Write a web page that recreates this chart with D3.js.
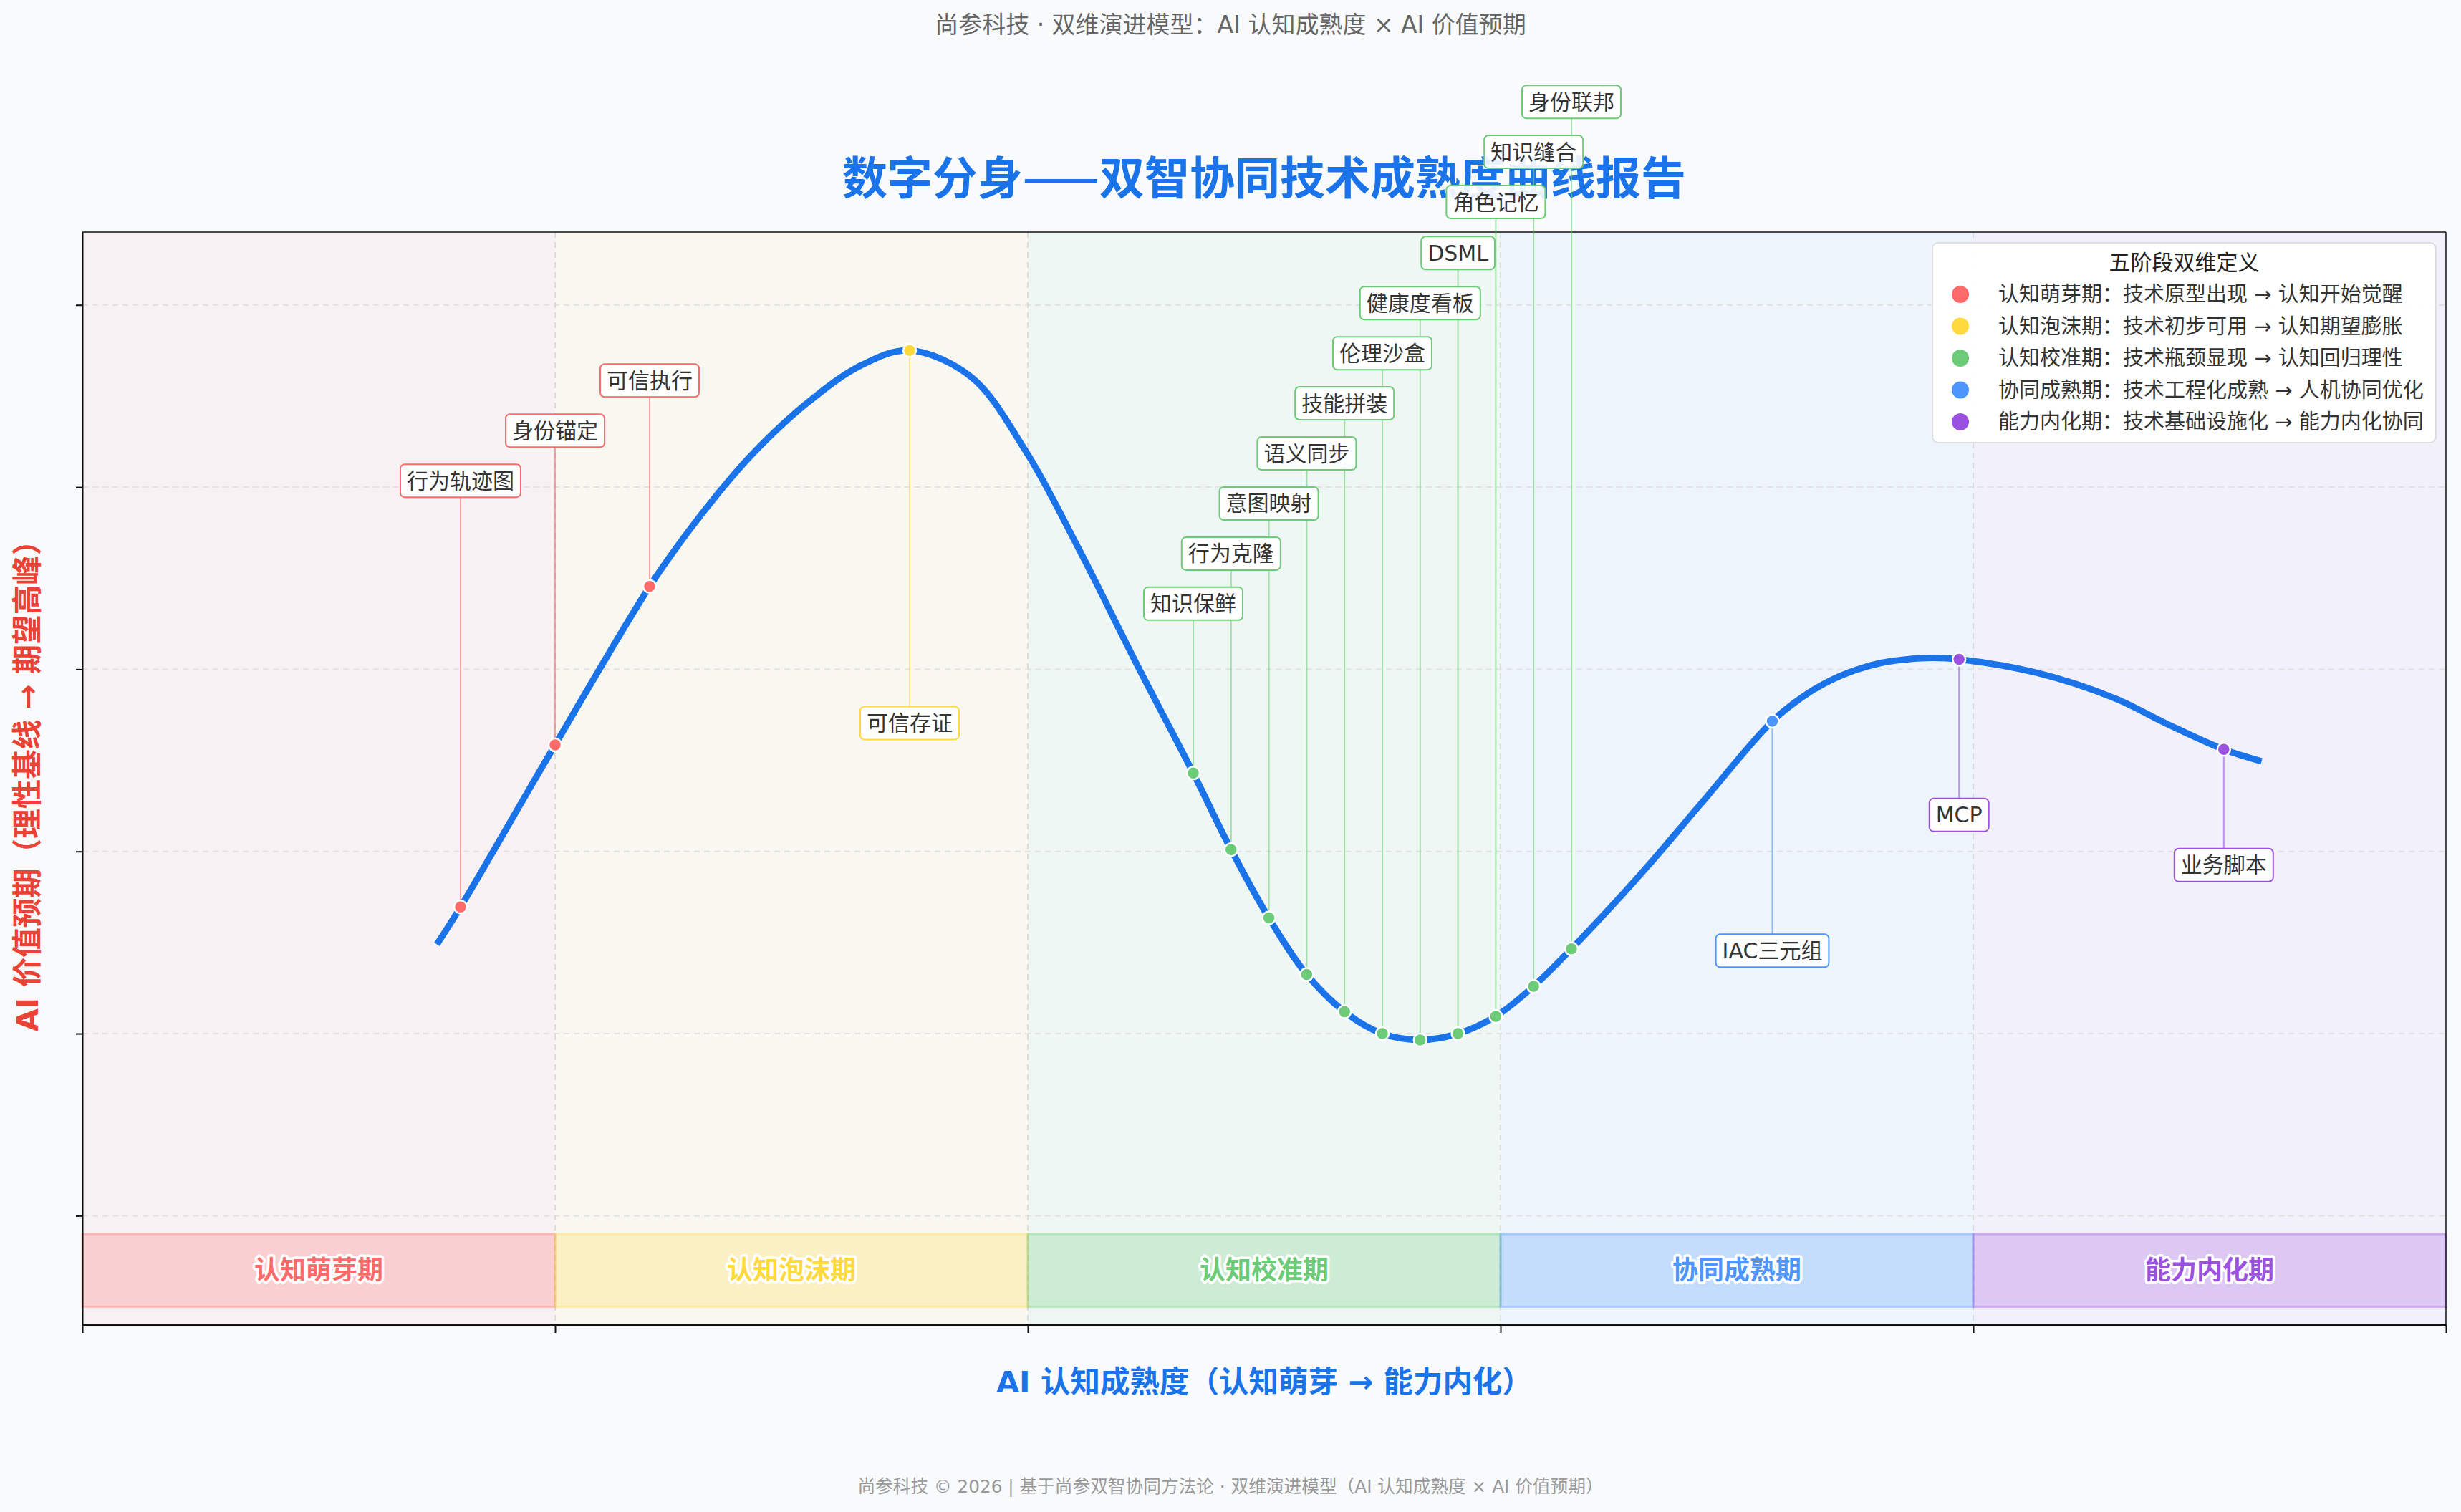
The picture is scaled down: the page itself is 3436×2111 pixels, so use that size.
<!DOCTYPE html>
<html><head><meta charset="utf-8">
<script src="https://cdn.jsdelivr.net/npm/d3@7"></script>
<style>
html,body{margin:0;padding:0;background:#f8fafc;}
svg{display:block}
text{font-family:"DejaVu Sans","Noto Sans CJK SC",sans-serif}
</style></head>
<body><svg id="chart" width="3436" height="2111"></svg>
<script>
// ---------------- DATA ----------------
const stages = ["认知萌芽期","认知泡沫期","认知校准期","协同成熟期","能力内化期"];
const stageDefs = ["技术原型出现 → 认知开始觉醒","技术初步可用 → 认知期望膨胀","技术瓶颈显现 → 认知回归理性","技术工程化成熟 → 人机协同优化","技术基础设施化 → 能力内化协同"];
const stageBounds = [0,20,40,60,80,100];
const yTicks = [0,20,40,60,80,100];

const curveX = [15,16,20,24,25.6,26.8,28.3,30.65,32.97,35,37.6,39.9,42.2,44.6,47,48.6,50.2,51.8,53.4,55,56.6,58.2,59.8,61.4,63,66.2,68.4,71.5,72.8,73.9,75,76.1,77.2,78.3,79.4,82.7,86,88.2,90.6,92.2];
const curveY = [29.8,33.9,51.7,69.1,75.0,79.0,83.5,89.2,93.4,95.0,92.1,84.0,73.0,60.6,48.6,40.2,32.7,26.5,22.4,20.0,19.3,20.0,21.9,25.2,29.3,38.3,45.0,54.3,57.0,58.7,59.9,60.7,61.1,61.25,61.1,59.6,56.8,54.0,51.2,49.9];

const techNames = ["行为轨迹图","身份锚定","可信执行","可信存证","知识保鲜","行为克隆","意图映射","语义同步","技能拼装","伦理沙盒","健康度看板","DSML","角色记忆","知识缝合","身份联邦","IAC三元组","MCP","业务脚本"];
const techStage = [0,0,0,1,2,2,2,2,2,2,2,2,2,2,2,3,4,4];
const techX = [16,20,24,35,47,48.6,50.2,51.8,53.4,55,56.6,58.2,59.8,61.4,63,71.5,79.4,90.6];
const techY = [33.9,51.7,69.1,95.0,48.6,40.2,32.7,26.5,22.4,20.0,19.3,20.0,21.9,25.2,29.3,54.3,61.1,51.2];

const titleText = "数字分身——双智协同技术成熟度曲线报告";
const subtitleText = "尚参科技 · 双维演进模型：AI 认知成熟度 × AI 价值预期";
const xTitle = "AI 认知成熟度（认知萌芽 → 能力内化）";
const yTitle = "AI 价值预期（理性基线 → 期望高峰）";
const legendTitle = "五阶段双维定义";
const footerText = "尚参科技 © 2026 | 基于尚参双智协同方法论 · 双维演进模型（AI 认知成熟度 × AI 价值预期）";

// ---------------- STYLE / LAYOUT ----------------
const stageColors = ["#ff6b6b","#ffd93d","#6bcb77","#4d96ff","#9b51e0"];
// label anchor (in value units) for each tech label
const labelYs = [80.7,86.2,91.7,54.1,67.2,72.7,78.2,83.7,89.2,94.7,100.2,105.7,111.3,116.8,122.3,29.1,44.0,38.5];

const W = 3436, H = 2111;
const L = 115, R = 3415, T = 324, B = 1850;
const svg = d3.select("#chart");
svg.append("rect").attr("width",W).attr("height",H).attr("fill","#f8fafc");

const x = d3.scaleLinear().domain([0,100]).range([L,R]);
const y = d3.scaleLinear().domain([-12,108]).range([B,T]);

// stage backgrounds
const bg = svg.append("g");
stages.forEach((s,i)=>{
  bg.append("rect").attr("x",x(stageBounds[i])).attr("y",T)
    .attr("width",x(stageBounds[i+1])-x(stageBounds[i])).attr("height",B-T)
    .attr("fill",stageColors[i]).attr("fill-opacity",0.06);
});
// grid
const grid = svg.append("g");
yTicks.forEach(v=>{
  grid.append("line").attr("x1",L).attr("x2",R).attr("y1",y(v)).attr("y2",y(v))
    .attr("stroke","#e2e2e2").attr("stroke-width",2).attr("stroke-dasharray","8,6");
});
stageBounds.slice(1,-1).forEach(v=>{
  grid.append("line").attr("x1",x(v)).attr("x2",x(v)).attr("y1",T).attr("y2",B)
    .attr("stroke","#dcdcdc").attr("stroke-width",2).attr("stroke-dasharray","8,6");
});
// bottom bands
const bands = svg.append("g");
stages.forEach((s,i)=>{
  bands.append("rect").attr("x",x(stageBounds[i])).attr("y",y(-2))
    .attr("width",x(stageBounds[i+1])-x(stageBounds[i])).attr("height",y(-10)-y(-2))
    .attr("fill",stageColors[i]).attr("fill-opacity",0.25)
    .attr("stroke",stageColors[i]).attr("stroke-opacity",0.35).attr("stroke-width",3);
  bands.append("text").attr("x",(x(stageBounds[i])+x(stageBounds[i+1]))/2).attr("y",y(-6))
    .attr("text-anchor","middle").attr("dominant-baseline","central")
    .attr("font-size",36).attr("font-weight","bold")
    .attr("fill",stageColors[i]).attr("stroke","#fff").attr("stroke-width",7)
    .attr("stroke-linejoin","round").attr("paint-order","stroke").text(s);
});

// axes
const ax = svg.append("g").attr("transform",`translate(${L},0)`)
  .call(d3.axisLeft(y).tickValues(yTicks).tickSize(9).tickSizeOuter(0).tickFormat(""));
ax.selectAll("path,line").attr("stroke","#111").attr("stroke-width",2);
const bx = svg.append("g").attr("transform",`translate(0,${B})`)
  .call(d3.axisBottom(x).tickValues(stageBounds).tickSize(11).tickSizeOuter(0).tickFormat(""));
bx.selectAll("line").attr("stroke","#111").attr("stroke-width",2);
bx.select("path").attr("stroke","#111").attr("stroke-width",3);
svg.append("line").attr("x1",L).attr("x2",R).attr("y1",T).attr("y2",T).attr("stroke","#111").attr("stroke-width",1.5);
svg.append("line").attr("x1",R).attr("x2",R).attr("y1",T).attr("y2",B).attr("stroke","#111").attr("stroke-width",1.5);

// titles
svg.append("text").attr("x",(L+R)/2).attr("y",243).attr("text-anchor","middle").attr("dominant-baseline","central")
  .style("font-family",'"Noto Sans CJK SC",sans-serif')
  .attr("font-size",63).attr("font-weight","bold").attr("fill","#1a73e8").text(titleText);
svg.append("text").attr("x",W/2).attr("y",34).attr("text-anchor","middle").attr("dominant-baseline","central")
  .attr("font-size",33).attr("fill","#666").text(subtitleText);
svg.append("text").attr("x",(L+R)/2).attr("y",1929).attr("text-anchor","middle").attr("dominant-baseline","central")
  .attr("font-size",41.5).attr("font-weight","bold").attr("fill","#1a73e8").text(xTitle);
svg.append("text").attr("transform",`translate(38,${(T+B)/2}) rotate(-90)`).attr("text-anchor","middle").attr("dominant-baseline","central")
  .attr("font-size",41.5).attr("font-weight","bold").attr("fill","#ea4335").text(yTitle);
svg.append("text").attr("x",W/2).attr("y",2075).attr("text-anchor","middle").attr("dominant-baseline","central")
  .attr("font-size",24.7).attr("fill","#999").text(footerText);

// curve
const pts = curveX.map((v,i)=>[v,curveY[i]]);
svg.append("path").datum(pts)
  .attr("d",d3.line().x(d=>x(d[0])).y(d=>y(d[1])).curve(d3.curveCatmullRom.alpha(0.5)))
  .attr("fill","none").attr("stroke","#1a73e8").attr("stroke-width",9);

// label leader lines
const BOXH = 46;
const leaders = svg.append("g");
techNames.forEach((n,i)=>{
  const px = x(techX[i]), py = y(techY[i]), ly = y(labelYs[i]);
  const edge = ly < py ? ly + BOXH/2 : ly - BOXH/2;
  leaders.append("line").attr("x1",px).attr("x2",px).attr("y1",py).attr("y2",edge)
    .attr("stroke",stageColors[techStage[i]]).attr("stroke-opacity",0.6).attr("stroke-width",2);
});
// markers
svg.append("g").selectAll("circle").data(techNames).join("circle")
  .attr("cx",(d,i)=>x(techX[i])).attr("cy",(d,i)=>y(techY[i])).attr("r",9)
  .attr("fill",(d,i)=>stageColors[techStage[i]]).attr("stroke","#fff").attr("stroke-width",2.5);
// labels
const lab = svg.append("g");
techNames.forEach((n,i)=>{
  const g = lab.append("g");
  const cx = x(techX[i]), cy = y(labelYs[i]);
  const r = g.append("rect");
  const t = g.append("text").attr("x",cx).attr("y",cy).attr("text-anchor","middle").attr("dominant-baseline","central")
    .attr("font-size",30).attr("fill","#333").text(n);
  const w = t.node().getComputedTextLength() + 18;
  r.attr("x",cx-w/2).attr("y",cy-BOXH/2).attr("width",w).attr("height",BOXH).attr("rx",6)
   .attr("fill","#fff").attr("fill-opacity",0.9).attr("stroke",stageColors[techStage[i]]).attr("stroke-width",2);
});

// legend
const lg = svg.append("g");
const LX = 2698, LY = 339, LW = 703, LH = 279;
lg.append("rect").attr("x",LX).attr("y",LY).attr("width",LW).attr("height",LH).attr("rx",8)
  .attr("fill","#fff").attr("fill-opacity",0.95).attr("stroke","#ddd").attr("stroke-width",2);
lg.append("text").attr("x",LX+LW/2).attr("y",LY+27).attr("text-anchor","middle").attr("dominant-baseline","central")
  .attr("font-size",30).attr("fill","#222").text(legendTitle);
stages.forEach((s,i)=>{
  const yy = LY + 72 + i*44.5;
  lg.append("circle").attr("cx",LX+39).attr("cy",yy).attr("r",12).attr("fill",stageColors[i]);
  lg.append("text").attr("x",LX+92).attr("y",yy).attr("dominant-baseline","central")
    .attr("font-size",29).attr("fill","#333").text(s + "：" + stageDefs[i]);
});
</script></body></html>
